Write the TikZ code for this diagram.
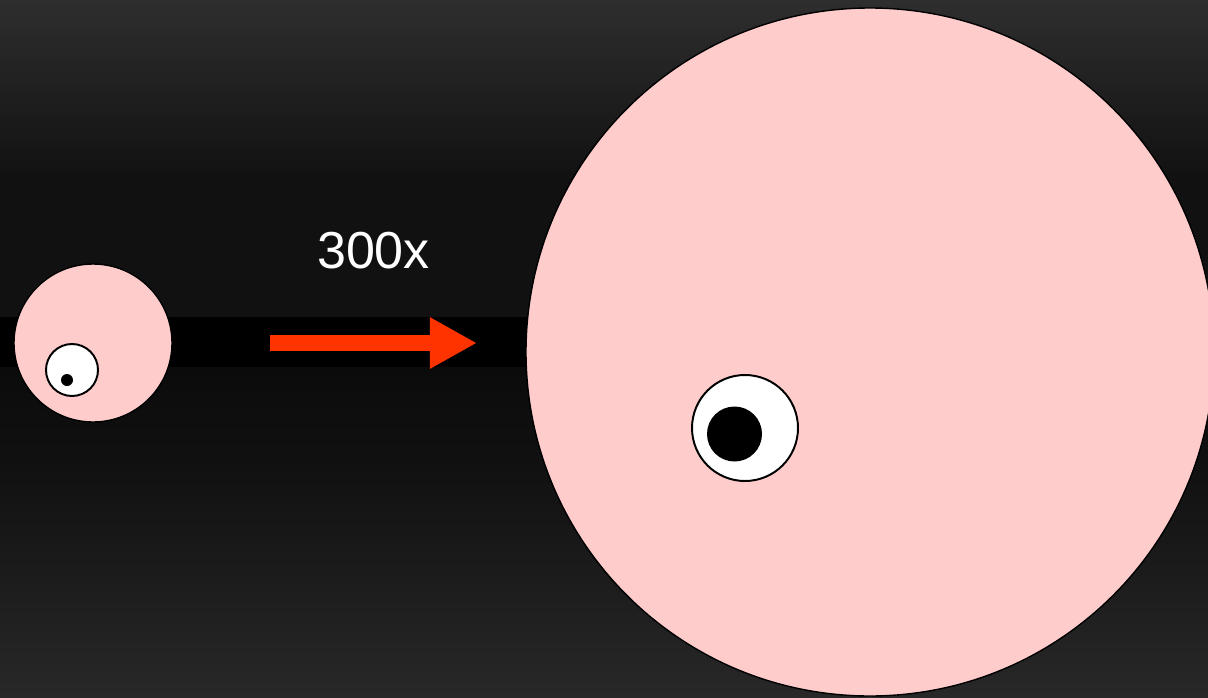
\documentclass[tikz,border=0pt]{standalone}
\usepackage{fontspec}
\setmainfont{Liberation Sans}
\usetikzlibrary{arrows.meta}

\definecolor{skin}{HTML}{FFCCCC}
\definecolor{arrowred}{HTML}{FF3300}
\definecolor{bgtop}{HTML}{2E2E2E}
\definecolor{bgmid}{HTML}{111111}
\definecolor{bglow}{HTML}{0B0B0B}
\definecolor{bgbot}{HTML}{282828}

\begin{document}
\begin{tikzpicture}[x=0.025cm, y=-0.025cm, line join=round,
    cell/.style={fill=skin, draw=black, line width=1pt},
    eye/.style={fill=white, draw=black, line width=1.4pt},
    pupil/.style={fill=black}]
  \useasboundingbox (0,0) rectangle (1208,697);
  % fondo en bandas
  \shade[top color=bgtop, bottom color=bgmid] (0,0) rectangle (1208,181);
  \fill[bgmid] (0,180) rectangle (1208,318);
  \fill[black] (0,317) rectangle (1208,368);
  \shade[top color=bglow, bottom color=bgmid] (0,367) rectangle (1208,470);
  \shade[top color=bgmid, bottom color=bgbot] (0,469) rectangle (1208,697);
  \clip (0,0) rectangle (1208,697);
  % celula pequena
  \draw[cell] (93,343) circle[radius=79];
  \draw[eye] (72,370) circle[radius=26];
  \fill[pupil] (67,380) circle[radius=6];
  % flecha y factor
  \node[text=white, font=\fontsize{37}{41}\selectfont] (factor) at (373.5,251) {300x};
  \coordinate (from) at (270,343);
  \coordinate (to) at (477,343);
  \draw[arrowred, line width=0.4cm,
    -{Triangle[length=1.175cm 0, width=1.2cm 0]}] (from) -- (to);
  % celula grande
  \draw[cell] (870,352) circle[radius=344];
  \draw[eye] (745,428) circle[radius=53];
  \fill[pupil] (734.5,434) circle[radius=27.5];
\end{tikzpicture}
\end{document}
